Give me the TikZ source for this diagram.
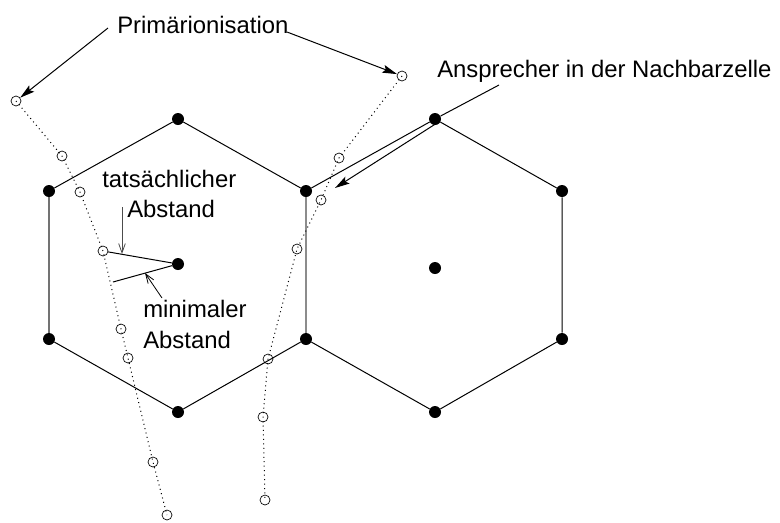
\documentclass[tikz,border=0pt]{standalone}
\usepackage{fontspec}
\setmainfont{Liberation Sans}
\usetikzlibrary{arrows.meta}
\begin{document}
\begin{tikzpicture}[x=0.75pt,y=-0.75pt,
 vtx/.style={circle,fill=black,inner sep=0pt,minimum size=9pt},
 ion/.style={circle,draw=black,line width=0.5pt,inner sep=0pt,minimum size=7.5pt},
 edge/.style={line width=0.75pt},
 grayedge/.style={line width=1.2pt,draw=black!55},
 sharededge/.style={line width=0.55pt,double=black!45,double distance=1.1pt},
 track/.style={line width=0.75pt,dash pattern=on 0.75pt off 2.6pt},
 lbl/.style={font=\fontsize{17.9}{21}\selectfont,inner sep=0pt},
 bigarrow/.style={line width=0.75pt,-{Stealth[length=11pt,width=6pt,inset=2pt]}},
 smallarrow/.style={line width=0.6pt,-{Straight Barb[length=7pt,width=5pt]}},
]
\useasboundingbox (0,0) rectangle (780,522);

% hexagon A
\node[vtx] (a1) at (178,119) {};
\node[vtx] (a2) at (306,191) {};
\node[vtx] (a3) at (306,339) {};
\node[vtx] (a4) at (178,412) {};
\node[vtx] (a5) at (49,339) {};
\node[vtx] (a6) at (49,191) {};
\node[vtx] (ac) at (178,264) {};
% hexagon B
\node[vtx] (b1) at (435,119) {};
\node[vtx] (b2) at (562,191) {};
\node[vtx] (b3) at (562,339) {};
\node[vtx] (b4) at (435,412) {};
\node[vtx] (bc) at (435,268) {};

\draw[edge] (a6) -- (a1) -- (a2);
\draw[edge] (a3) -- (a4) -- (a5);
\draw[grayedge] (a5) -- (a6);
\draw[sharededge] (a2) -- (a3);
\draw[edge] (a2) -- (b1) -- (b2) -- (b3) -- (b4) -- (a3);

% left track
\node[ion] (l1) at (16,101) {};
\node[ion] (l2) at (62,156) {};
\node[ion] (l3) at (80,192) {};
\node[ion] (l4) at (103,251) {};
\node[ion] (l5) at (121,329) {};
\node[ion] (l6) at (128,358) {};
\node[ion] (l7) at (153,462) {};
\node[ion] (l8) at (167,515) {};
\draw[track] (l1.center) -- (l2.center) -- (l3.center) -- (l4.center) -- (l5.center) -- (l6.center) -- (l7.center) -- (l8.center);

% right track
\node[ion] (r1) at (402,76) {};
\node[ion] (r2) at (339,158) {};
\node[ion] (r3) at (321,200) {};
\node[ion] (r4) at (297,249) {};
\node[ion] (r5) at (268,359) {};
\node[ion] (r6) at (263,417) {};
\node[ion] (r7) at (265,500) {};
\draw[track] (r1.center) -- (r2.center) -- (r3.center) -- (r4.center) -- (r5.center) -- (r6.center) -- (r7.center);

% labels
\node[lbl,anchor=base west] (prim) at (117,33) {Primärionisation};
\node[lbl,anchor=base west] (ansp) at (437,77) {Ansprecher in der Nachbarzelle};
\node[lbl,anchor=base west] (tat1) at (102,187) {tatsächlicher};
\node[lbl,anchor=base west] (tat2) at (127,217) {Abstand};
\node[lbl,anchor=base west] (min1) at (143,317) {minimaler};
\node[lbl,anchor=base west] (min2) at (143,348) {Abstand};

% Primärionisation arrows
\coordinate (p1s) at (108,28);
\coordinate (p2s) at (287,32);
\draw[bigarrow] (p1s) -- (l1);
\draw[bigarrow] (p2s) -- (r1);

% Ansprecher pointer
\coordinate (as) at (499,85);
\coordinate (aas) at (437,123);
\coordinate (aat) at (335,188);
\draw[edge] (as) -- (b1);
\draw[bigarrow] (aas) -- (aat);

% distances
\coordinate (mp) at (113,282);
\draw[edge] (l4) -- (ac);
\draw[edge] (mp) -- (ac);
\coordinate (ts) at (122,207);
\coordinate (tt) at (122,254);
\draw[smallarrow,draw=black!70] (ts) -- (tt);
\coordinate (ms) at (162,298);
\coordinate (mt) at (145,273);
\draw[smallarrow] (ms) -- (mt);
\end{tikzpicture}
\end{document}
